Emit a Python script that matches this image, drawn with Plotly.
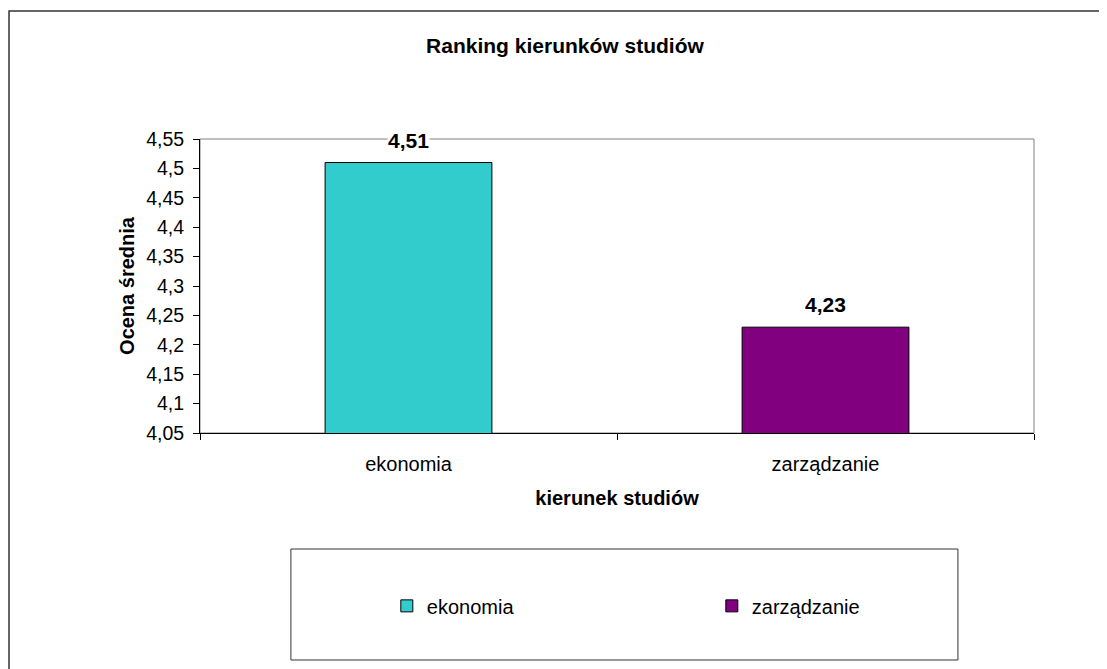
import plotly.graph_objects as go

# ---- data ----
categories = ["ekonomia", "zarządzanie"]
values = [4.51, 4.23]
colors = ["#33CCCC", "#800080"]
y_tickvals = [4.05, 4.10, 4.15, 4.20, 4.25, 4.30, 4.35, 4.40, 4.45, 4.50, 4.55]
y_ticktext = ["4,05", "4,1", "4,15", "4,2", "4,25", "4,3", "4,35", "4,4", "4,45", "4,5", "4,55"]

FONT = "Liberation Sans, Arial, sans-serif"

fig = go.Figure()
for cat, val, col in zip(categories, values, colors):
    fig.add_trace(go.Bar(
        x=[cat], y=[val], name=cat,
        marker=dict(color=col, line=dict(color="#000000", width=1)),
        width=0.4, hoverinfo="skip",
    ))

# value labels
for cat, val in zip(categories, values):
    fig.add_annotation(
        x=cat, y=val, xref="x", yref="y",
        text="<b>" + f"{val:.2f}".replace(".", ",") + "</b>",
        showarrow=False, yanchor="bottom", yshift=10,
        font=dict(family=FONT, size=21, color="#000000"),
        bgcolor="#FFFFFF", borderpad=0,
    )

# plot-area border (gray) and outer chart border, legend frame
fig.add_shape(type="rect", xref="paper", yref="paper", x0=0, x1=1, y0=0, y1=1,
              line=dict(color="#808080", width=1), layer="below")
fig.add_shape(type="rect", xref="paper", yref="paper", x0=-0.2290, x1=1.12, y0=-0.9, y1=1.4355,
              line=dict(color="#333333", width=1.5), layer="below")
fig.add_shape(type="rect", xref="paper", yref="paper", x0=0.109, x1=0.9088, y0=-0.7721, y1=-0.3946,
              line=dict(color="#333333", width=1), layer="below")

fig.update_layout(
    width=1099, height=661,
    margin=dict(l=192, r=73, t=131, b=236),
    paper_bgcolor="#FFFFFF", plot_bgcolor="#FFFFFF",
    font=dict(family=FONT, size=20, color="#000000"),
    title=dict(text="<b>Ranking kierunków studiów</b>", xref="container", yref="container",
               x=0.5068, xanchor="center", y=0.9425, yanchor="middle",
               font=dict(family=FONT, size=21, color="#000000")),
    showlegend=True,
    legend=dict(orientation="h", x=0.224, xanchor="left", y=-0.588, yanchor="middle",
                entrywidth=280, entrywidthmode="pixels",
                font=dict(family=FONT, size=20, color="#000000"),
                bgcolor="rgba(0,0,0,0)", borderwidth=0, traceorder="normal"),
    bargap=0.6,
)
fig.update_xaxes(
    type="category", showgrid=False, zeroline=False,
    showline=True, linecolor="#000000", linewidth=1,
    ticks="outside", ticklen=6, tickcolor="#000000", tickson="boundaries",
    tickfont=dict(family=FONT, size=20, color="#000000"),
    ticklabelstandoff=13,
    title=dict(text="<b>kierunek studiów</b>", standoff=16,
               font=dict(family=FONT, size=20, color="#000000")),
)
fig.update_yaxes(
    range=[4.05, 4.55], showgrid=False, zeroline=False,
    showline=True, linecolor="#000000", linewidth=1,
    ticks="outside", ticklen=6, tickcolor="#000000",
    tickvals=y_tickvals, ticktext=y_ticktext,
    tickfont=dict(family=FONT, size=19.5, color="#000000"),
    ticklabelstandoff=5,
    title=dict(text="<b>Ocena średnia</b>", standoff=6,
               font=dict(family=FONT, size=20, color="#000000")),
)

fig.write_html("out.html")
